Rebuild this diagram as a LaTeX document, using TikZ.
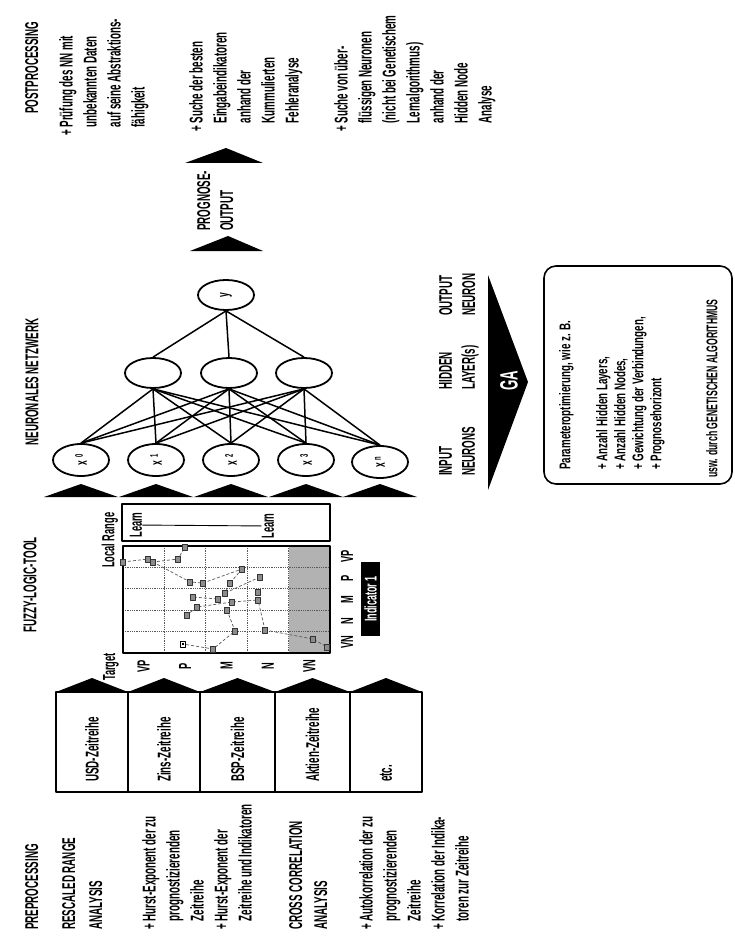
\documentclass[tikz,border=0pt]{standalone}
\usepackage{fontspec}
\newfontfamily\cf[FakeStretch=0.53]{Liberation Sans}
\newfontfamily\cfw[FakeStretch=0.63]{Liberation Sans}
\newfontfamily\cfu[FakeStretch=0.56]{Liberation Sans}
\usetikzlibrary{shapes.geometric,calc}
\begin{document}
\begin{tikzpicture}[x=1pt,y=-1pt,line join=round,
  blk/.style={rotate=90,anchor=north west,align=left,inner sep=0pt,font=\cf\bfseries\fontsize{18.5}{24}\selectfont},
  lbl/.style={rotate=90,inner sep=0pt,font=\cf\bfseries\fontsize{18.5}{20}\selectfont},
  small/.style={rotate=90,inner sep=0pt,font=\cf\bfseries\fontsize{17.5}{18}\selectfont},
  neuron/.style={draw,ellipse,line width=1.8,minimum width=56,minimum height=30,inner sep=0pt,font=\cf\bfseries\fontsize{16}{16}\selectfont},
  serbox/.style={draw,line width=2,minimum width=72,minimum height=100,inner sep=0pt},
  conn/.style={line width=1.5},
  gridl/.style={densely dotted,line width=0.8,black!65},
  trace/.style={densely dashed,line width=0.7,black!65},
  boxtxt/.style={rotate=90,anchor=north west,align=left,inner sep=0pt,font=\cfw\bfseries\fontsize{15.5}{18}\selectfont},
]
\useasboundingbox (0,0) rectangle (735,936);
\fill[white] (0,0) rectangle (735,936);

% ---------------- left: preprocessing texts
\node[blk] (pre) at (25,930) {PREPROCESSING};
\node[blk,font=\cf\bfseries\fontsize{18.5}{27}\selectfont] (rra) at (62,930) {RESCALED RANGE\\ANALYSIS};
\node[blk] (hurst) at (142,930) {+ Hurst-Exponent der zu\\\phantom{+ }prognostizierenden\\\phantom{+ }Zeitreihe\\+ Hurst-Exponent der\\\phantom{+ }Zeitreihe und Indikatoren};
\node[blk,font=\cf\bfseries\fontsize{18.5}{25}\selectfont] (cca) at (289,930) {CROSS CORRELATION\\ANALYSIS};
\node[blk] (auto) at (359,930) {+ Autokorrelation der zu\\\phantom{+ }prognostizierenden\\\phantom{+ }Zeitreihe\\+ Korrelation der Indika-\\\phantom{+ }toren zur Zeitreihe};

% ---------------- series boxes
\node[serbox] (b1) at (92,742) {};
\node[serbox] (b2) at (164,742) {};
\node[serbox,minimum width=75] (b3) at (237.5,742) {};
\node[serbox,minimum width=75] (b4) at (312.5,742) {};
\node[serbox] (b5) at (386,742) {};
\foreach \l/\r in {56/128,128/200,200/275,275/350,350/422}
  \fill (\l,692) -- ({(\l+\r)/2},678) -- (\r,692) -- cycle;
\node[lbl,anchor=west] (t1) at (92,782) {USD-Zeitreihe};
\node[lbl,anchor=west] (t2) at (164,782) {Zins-Zeitreihe};
\node[lbl,anchor=west] (t3) at (237.5,782) {BSP-Zeitreihe};
\node[lbl,anchor=west] (t4) at (312.5,782) {Aktien-Zeitreihe};
\node[lbl,anchor=west] (t5) at (386,782) {etc.};

% ---------------- fuzzy logic tool
\node[lbl] (fuzzy) at (30,585) {FUZZY-LOGIC-TOOL};
\fill[black!30] (288.6,546) rectangle (330,653);
\foreach \a in {164.4,205.8,247.2,288.6} \draw[gridl] (\a,546) -- (\a,653);
\foreach \b in {567.4,588.8,610.2,631.6} \draw[gridl] (123,\b) -- (330,\b);
\node[draw,line width=1.8,minimum width=207,minimum height=107,inner sep=0pt] (plot) at (226.5,599.5) {};
% data trace
\coordinate (pA) at (123,562); \coordinate (pB) at (148,559); \coordinate (pC) at (153,562);
\coordinate (pD) at (178,559); \coordinate (pE) at (185,547); \coordinate (pF) at (190,582);
\coordinate (pG) at (203,583); \coordinate (pH) at (242,569); \coordinate (pI) at (260,577);
\coordinate (pJ) at (230,583); \coordinate (pK) at (225,593); \coordinate (pL) at (258,592);
\coordinate (pM) at (258,600); \coordinate (pN) at (232,602); \coordinate (pO) at (218,599);
\coordinate (pP) at (193,597); \coordinate (pQ) at (197,607); \coordinate (pR) at (187,615);
\coordinate (pS) at (227,610); \coordinate (pT) at (235,631); \coordinate (pU) at (213,649);
\coordinate (pV) at (183,644); \coordinate (pW) at (265,630); \coordinate (pX) at (313,639);
\coordinate (pY) at (327,647);
\draw[trace] (pA) -- (pB) -- (pC) -- (pD) -- (pE);
\draw[trace] (pC) -- (pF) -- (pG) -- (pH);
\draw[trace] (pH) -- (pJ) -- (pK) -- (pO) -- (pP);
\draw[trace] (pI) -- (pK);
\draw[trace] (pL) -- (pM) -- (pN) -- (pQ) -- (pR);
\draw[trace] (pS) -- (pT) -- (pU) -- (pV);
\draw[trace] (pS) -- (pN);
\draw[trace] (pW) -- (pM);
\draw[trace] (pW) -- (pX) -- (pY);
\foreach \p in {pA,pB,pC,pD,pE,pF,pG,pH,pI,pJ,pK,pL,pM,pN,pO,pP,pQ,pR,pS,pT,pU,pW,pX,pY}
  \filldraw[fill=black!45,draw=black!80,line width=0.4] ($(\p)+(-2.5,-3)$) rectangle ($(\p)+(2.5,3)$);
\filldraw[fill=white,draw=black,line width=0.8] ($(pV)+(-2.5,-3)$) rectangle ($(pV)+(2.5,3)$);
\fill ($(pV)+(-1,-1.2)$) rectangle ($(pV)+(1,1.2)$);
% axis labels
\node[small,anchor=west] (target) at (111,681) {Target};
\node[small,anchor=west] (localr) at (110,568) {Local Range};
\foreach \c/\t [count=\i] in {143.7/VP,185.1/P,226.5/M,267.9/N,309.3/VN}
  \node[small] (row\i) at (\c,666) {\t};
\foreach \c/\t [count=\i] in {642.3/VN,620.9/N,599.5/M,578.1/P,556.7/VP}
  \node[small] (col\i) at (347,\c) {\t};
\node[rotate=90,fill=black,text=white,minimum width=74,minimum height=19,inner sep=0pt,font=\cf\bfseries\fontsize{17}{17}\selectfont] (ind) at (370.5,599) {Indicator 1};
% learn box
\node[draw,line width=1.2,minimum width=208,minimum height=37,inner sep=0pt] (learnbox) at (226,522.5) {};
\node[small] (learn1) at (136,525) {Learn};
\node[small] (learn2) at (268,526) {Learn};
\draw[line width=0.9] (learn1) -- (learn2);

% ---------------- neural network
\node[lbl] (nntitle) at (32,382) {NEURONALES NETZWERK};
\node[neuron] (y) at (226,295) {\rotatebox{90}{y}};
\node[neuron] (h1) at (153,373) {};
\node[neuron] (h2) at (229,373) {};
\node[neuron] (h3) at (304,373) {};
\node[neuron,minimum height=32] (x0) at (81,460) {\rotatebox{90}{x\,\raisebox{4pt}{\fontsize{11}{11}\selectfont 0}}};
\node[neuron,minimum height=32] (x1) at (156,460) {\rotatebox{90}{x\,\raisebox{4pt}{\fontsize{11}{11}\selectfont 1}}};
\node[neuron,minimum height=32] (x2) at (231,460) {\rotatebox{90}{x\,\raisebox{4pt}{\fontsize{11}{11}\selectfont 2}}};
\node[neuron,minimum height=32] (x3) at (306,460) {\rotatebox{90}{x\,\raisebox{4pt}{\fontsize{11}{11}\selectfont 3}}};
\node[neuron,minimum height=32] (xn) at (380,462) {\rotatebox{90}{x\,\raisebox{4pt}{\fontsize{11}{11}\selectfont n}}};
\foreach \h in {h1,h2,h3} \draw[conn] (y.south) -- (\h.north);
\foreach \h in {h1,h2,h3} \foreach \i in {x0,x1,x2,x3,xn} \draw[conn] (\h.south) -- (\i.north);
\foreach \c in {81,156,231,306,380}
  \fill ({\c-37},497) -- (\c,484) -- ({\c+37},497) -- cycle;
\node[blk,font=\cf\bfseries\fontsize{18.5}{23}\selectfont] (outl) at (439,316) {OUTPUT\\NEURON};
\node[blk,font=\cf\bfseries\fontsize{18.5}{23}\selectfont] (hidl) at (439,390) {HIDDEN\\LAYER(s)};
\node[blk,font=\cf\bfseries\fontsize{18.5}{23}\selectfont] (inl) at (439,476) {INPUT\\NEURONS};

% ---------------- output arrows
\fill (190,251) -- (228,236) -- (263,251) -- cycle;
\fill (185,163) -- (226,148) -- (263,163) -- cycle;
\node[blk,font=\cf\bfseries\fontsize{18.5}{23}\selectfont] (prog) at (197,231) {PROGNOSE-\\OUTPUT};

% ---------------- postprocessing
\node[blk] (post) at (25,114) {POSTPROCESSING};
\node[blk] (pp1) at (59,136) {+ Prüfung des NN mit\\\phantom{+ }unbekannten Daten\\\phantom{+ }auf seine Abstraktions-\\\phantom{+ }fähigkeit};
\node[blk] (pp2) at (189,132) {+ Suche der besten\\\phantom{+ }Eingabeindikatoren\\\phantom{+ }anhand der\\\phantom{+ }Kummulierten\\\phantom{+ }Fehleranalyse};
\node[blk] (pp3) at (334,132) {+ Suche von über-\\\phantom{+ }flüssigen Neuronen\\\phantom{+ }(nicht bei Genetischem\\\phantom{+ }Lernalgorithmus)\\\phantom{+ }anhand der\\\phantom{+ }Hidden Node\\\phantom{+ }Analyse};

% ---------------- GA
\fill (488,275) -- (528,382) -- (488,490) -- cycle;
\node[rotate=90,text=white,inner sep=0pt,font=\cf\bfseries\fontsize{25}{25}\selectfont] (ga) at (509,381) {GA};
\node[draw,rounded corners=12,line width=1.6,minimum width=188,minimum height=218,inner sep=0pt] (pbox) at (638,375) {};
\node[boxtxt] (par) at (559,470) {Parameteroptimierung, wie z. B.};
\node[boxtxt] (parl) at (596,470) {+ Anzahl Hidden Layers,\\+ Anzahl Hidden Nodes,\\+ Gewichtung der Verbindungen,\\+ Prognosehorizont};
\node[boxtxt,font=\cfu\bfseries\fontsize{15.5}{18}\selectfont] (usw) at (706,478) {usw. durch GENETISCHEN ALGORITHMUS};
\end{tikzpicture}
\end{document}
